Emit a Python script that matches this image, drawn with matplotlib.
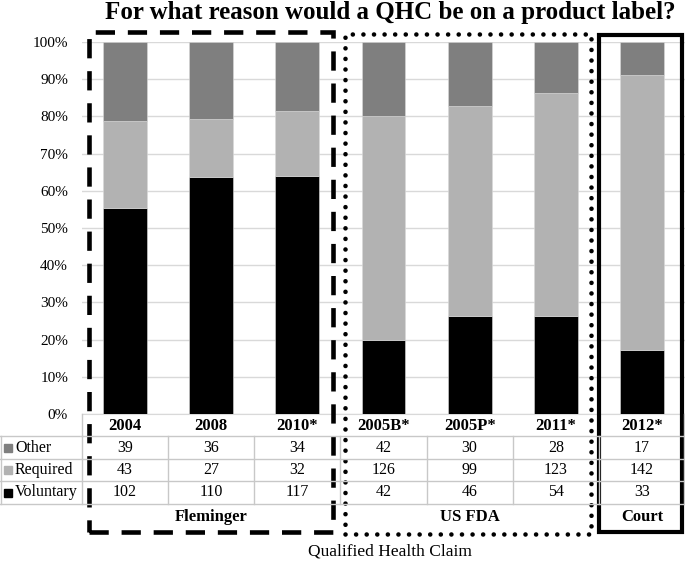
import matplotlib.pyplot as plt
import numpy as np
from matplotlib.patches import Rectangle

plt.rcParams['font.family'] = ['Liberation Serif', 'DejaVu Serif']

# data
categories = ['2004', '2008', '2010*', '2005B*', '2005P*', '2011*', '2012*']
other = np.array([39, 36, 34, 42, 30, 28, 17])
required = np.array([43, 27, 32, 126, 99, 123, 142])
voluntary = np.array([102, 110, 117, 42, 46, 54, 33])
groups = ['Fleminger', 'US FDA', 'Court']
group_span = [(0, 2), (3, 5), (6, 6)]

series = [('Other', other, '#7f7f7f'),
          ('Required', required, '#b2b2b2'),
          ('Voluntary', voluntary, '#000000')]

total = other + required + voluntary
pv = voluntary / total
pr = required / total
po = other / total

W, H = 685, 566
fig = plt.figure(figsize=(W / 100, H / 100), dpi=100)

def fx(px):
    return px / W

def fy(py):
    return 1 - py / H

ax_l, ax_r, ax_t, ax_b = 82, 685, 42, 414
ax = fig.add_axes([fx(ax_l), fy(ax_b), fx(ax_r - ax_l), (ax_b - ax_t) / H])
x = np.arange(len(categories))
bw = 0.51
ax.bar(x, pv, bw, color='#000000', edgecolor='#d9d9d9', linewidth=0.4, zorder=3)
ax.bar(x, pr, bw, bottom=pv, color='#b2b2b2', edgecolor='#d9d9d9', linewidth=0.4, zorder=3)
ax.bar(x, po, bw, bottom=pv + pr, color='#7f7f7f', edgecolor='#d9d9d9', linewidth=0.4, zorder=3)
ax.set_xlim(-0.5, len(categories) - 0.5)
ax.set_ylim(0, 1)
ax.set_yticks(np.arange(0, 1.01, 0.1))
ax.set_yticklabels([f'{int(round(v * 100))}%' for v in np.arange(0, 1.01, 0.1)], fontsize=11)
ax.yaxis.grid(True, color='#d9d9d9', linewidth=1, zorder=0)
ax.set_xticks([])
ax.tick_params(axis='y', length=0, pad=10)
for s in ['top', 'right', 'left']:
    ax.spines[s].set_visible(False)
ax.spines['bottom'].set_color('#d9d9d9')

# table
col_w = (ax_r - ax_l) / len(categories)
row_y = [414, 436, 459, 481, 504]
lc = '#c8c8c8'
for i, c in enumerate(categories):
    cx = ax_l + col_w * (i + 0.5)
    fig.text(fx(cx), fy((row_y[0] + row_y[1]) / 2 + 1), c, ha='center', va='center',
             fontsize=12, fontweight='bold')
for r, (name, vals, col) in enumerate(series):
    cy = (row_y[r + 1] + row_y[r + 2]) / 2
    fig.add_artist(Rectangle((fx(4), fy(cy + 4)), fx(8), 8 / H, color=col, transform=fig.transFigure))
    fig.text(fx(15), fy(cy), name, ha='left', va='center', fontsize=11.5)
    for i, v in enumerate(vals):
        cx = ax_l + col_w * (i + 0.5)
        fig.text(fx(cx), fy(cy), str(v), ha='center', va='center', fontsize=11.5)
for yy in row_y[1:]:
    fig.add_artist(plt.Line2D([0, 1], [fy(yy), fy(yy)], color=lc, lw=1, transform=fig.transFigure))
for xx in [0.5, ax_l]:
    fig.add_artist(plt.Line2D([fx(xx), fx(xx)], [fy(row_y[1]), fy(row_y[4])], color=lc, lw=1,
                              transform=fig.transFigure))
for i in range(1, len(categories) + 1):
    xx = min(ax_l + col_w * i, W - 1)
    fig.add_artist(plt.Line2D([fx(xx), fx(xx)], [fy(row_y[1]), fy(row_y[4])], color=lc, lw=1,
                              transform=fig.transFigure))
fig.add_artist(plt.Line2D([fx(ax_l), fx(ax_l)], [fy(row_y[0]), fy(row_y[1])], color=lc, lw=1,
                          transform=fig.transFigure))
fig.add_artist(plt.Line2D([fx(W - 1), fx(W - 1)], [fy(row_y[0]), fy(row_y[1])], color=lc, lw=1,
                          transform=fig.transFigure))

# group labels
for g, (a, b) in zip(groups, group_span):
    cx = ax_l + col_w * ((a + b) / 2 + 0.5)
    fig.text(fx(cx), fy(517), g, ha='center', va='center', fontsize=12, fontweight='bold')

# group boxes
def box(x0, y0, x1, y1, **kw):
    fig.add_artist(Rectangle((fx(x0), fy(y1)), fx(x1 - x0), (y1 - y0) / H, fill=False,
                             transform=fig.transFigure, edgecolor='black', **kw))

box(89, 32, 333, 532, lw=3.3, linestyle=(0, (4.2, 2.8)))
box(345, 34, 591, 534, lw=3.3, linestyle=(0, (0.01, 2.3)), capstyle='round')
box(599, 35, 682, 532, lw=3)

fig.text(fx(390), fy(13), 'For what reason would a QHC be on a product label?', ha='center',
         va='center', fontsize=18, fontweight='bold')
fig.text(fx(390), fy(551), 'Qualified Health Claim', ha='center', va='center', fontsize=12.5)

fig.savefig('out.png', dpi=100)
